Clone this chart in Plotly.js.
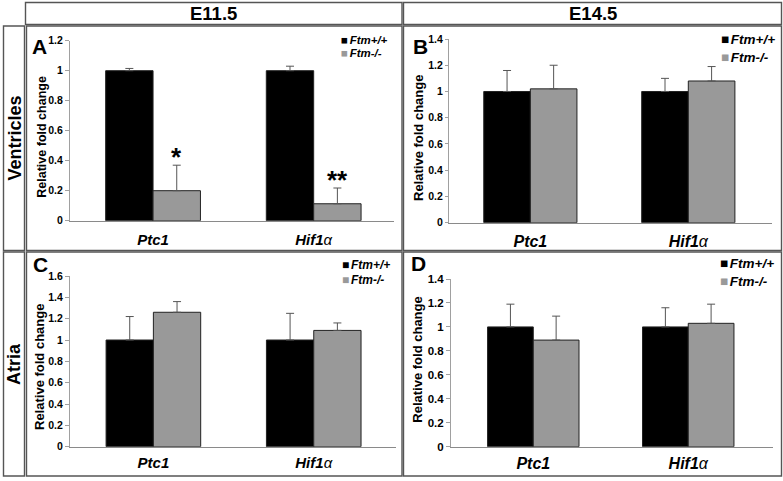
<!DOCTYPE html>
<html>
<head>
<meta charset="utf-8">
<script src="https://cdn.plot.ly/plotly-3.0.1.min.js"></script>
<style>html,body{margin:0;padding:0;background:#fff;}#chart{width:783px;height:481px;}</style>
</head>
<body>
<div id="chart"></div>
<script>
// ---- data ----
const categories = ["Ptc1", "Hif1α"];
const tickLabels = ["<b>Ptc1</b>", "<b>Hif1</b>α"];
const seriesNames = ["Ftm+/+", "Ftm-/-"];
const stages = ["E11.5", "E14.5"];
const tissues = ["Ventricles", "Atria"];
const panelLetters = ["A", "B", "C", "D"];

const wtA = [1.00, 1.00], wtErrA = [0.015, 0.03];
const koA = [0.20, 0.113], koErrA = [0.17, 0.105];
const sigA = ["*", "**"];

const wtB = [1.00, 1.00], wtErrB = [0.16, 0.10];
const koB = [1.02, 1.08], koErrB = [0.18, 0.11];

const wtC = [1.00, 1.00], wtErrC = [0.22, 0.25];
const koC = [1.26, 1.09], koErrC = [0.10, 0.07];

const wtD = [1.00, 1.00], wtErrD = [0.19, 0.16];
const koD = [0.89, 1.03], koErrD = [0.20, 0.16];

const yMax = [1.2, 1.4, 1.6, 1.4];

// ---- layout helpers ----
const W = 783, H = 481;
const px = v => v / W;
const py = v => 1 - v / H;
const FONT = "Liberation Sans, Arial, sans-serif";
const colors = ["#000000", "#999999"];

const panels = [
  {wt: wtA, wtE: wtErrA, ko: koA, koE: koErrA, x0: 70, x1: 394, yb: 220.7, yt: 40.7, xr: [-0.517, 1.50], tick: 10.5, tl: 4, cat: 15, catSt: 5, title: 12.5, tx: 41.7, ty: 137, leg: {x: 340, y1: 39.5, y2: 53, fs: 11.5}, let: {x: 31, y: 46}},
  {wt: wtB, wtE: wtErrB, ko: koB, koE: koErrB, x0: 449, x1: 771.7, yb: 222.7, yt: 39, xr: [-0.515, 1.528], tick: 10.5, tl: 3, cat: 16, catSt: 4, title: 13, tx: 418, ty: 138, leg: {x: 720, y1: 39.3, y2: 57.3, fs: 13.5}, let: {x: 412, y: 46}},
  {wt: wtC, wtE: wtErrC, ko: koC, koE: koErrC, x0: 70, x1: 396, yb: 446.7, yt: 276, xr: [-0.52, 1.513], tick: 10.5, tl: 4, cat: 15, catSt: 2, title: 13, tx: 39.3, ty: 366.7, leg: {x: 340.5, y1: 265, y2: 280, fs: 12}, let: {x: 32, y: 264}},
  {wt: wtD, wtE: wtErrD, ko: koD, koE: koErrD, x0: 451, x1: 772.7, yb: 446.7, yt: 279, xr: [-0.531, 1.545], tick: 11.5, tl: 4, cat: 16, catSt: 2, title: 13, tx: 416.7, ty: 360, leg: {x: 719, y1: 263.3, y2: 281.7, fs: 13.5}, let: {x: 410, y: 263}}
];

const data = [];
const layout = {
  width: W, height: H,
  margin: {l: 0, r: 0, t: 0, b: 0},
  paper_bgcolor: "#ffffff", plot_bgcolor: "rgba(0,0,0,0)",
  font: {family: FONT, color: "#000"},
  showlegend: false,
  barmode: "group",
  bargap: 0.41, bargroupgap: 0,
  annotations: [], shapes: []
};

panels.forEach((p, i) => {
  const sfx = i === 0 ? "" : String(i + 1);
  const xa = "x" + sfx, ya = "y" + sfx;
  [[p.wt, p.wtE], [p.ko, p.koE]].forEach((s, k) => {
    data.push({
      type: "bar", x: categories, y: s[0], name: seriesNames[k],
      xaxis: xa, yaxis: ya,
      marker: {color: colors[k], line: {color: "#222", width: 1}},
      error_y: {type: "data", symmetric: false, array: s[1], arrayminus: s[1].map(() => 0),
                color: "#555", thickness: 1, width: 4},
      hoverinfo: "skip"
    });
  });
  layout["xaxis" + sfx] = {
    domain: [px(p.x0), px(p.x1)], anchor: ya, type: "category",
    range: p.xr, showline: true, linecolor: "#8a8a8a", linewidth: 1,
    showgrid: false, zeroline: false, ticks: "",
    tickmode: "array", tickvals: categories, ticktext: tickLabels,
    ticklabelstandoff: p.catSt,
    tickfont: {family: FONT, size: p.cat, style: "italic", color: "#000"},
    fixedrange: true
  };
  layout["yaxis" + sfx] = {
    domain: [py(p.yb), py(p.yt)], anchor: xa,
    range: [0, yMax[i]], dtick: 0.2, tick0: 0,
    showline: true, linecolor: "#a0a0a0", linewidth: 1,
    ticks: "outside", ticklen: p.tl, tickcolor: "#a0a0a0",
    showgrid: false, zeroline: false,
    tickfont: {family: FONT, size: p.tick, weight: "bold", color: "#000"},
    fixedrange: true
  };
  // y axis title
  layout.annotations.push({
    xref: "paper", yref: "paper", x: px(p.tx), y: py(p.ty), xanchor: "center", yanchor: "middle",
    text: "<b>Relative fold change</b>", textangle: -90, showarrow: false,
    font: {family: FONT, size: p.title, color: "#000"}
  });
  // panel letter
  layout.annotations.push({
    xref: "paper", yref: "paper", x: px(p.let.x), y: py(p.let.y), xanchor: "left", yanchor: "middle",
    text: "<b>" + panelLetters[i] + "</b>", showarrow: false, borderpad: 0,
    font: {family: FONT, size: 21, color: "#000"}
  });
  // legend
  [p.leg.y1, p.leg.y2].forEach((yy, k) => {
    layout.annotations.push({
      xref: "paper", yref: "paper", x: px(p.leg.x), y: py(yy), xanchor: "left", yanchor: "middle",
      text: '<span style="color:' + colors[k] + '">■</span><span style="font-size:6px"> </span><b><i>' + seriesNames[k] + '</i></b>',
      showarrow: false, borderpad: 0, font: {family: FONT, size: p.leg.fs, color: "#000"}
    });
  });
});

// significance marks (panel A, knockout bars)
const koOffset = (1 - layout.bargap) / 4;
sigA.forEach((s, j) => {
  layout.annotations.push({
    xref: "x", yref: "y", x: j + koOffset, y: koA[j] + koErrA[j],
    xanchor: "center", yanchor: "bottom", yshift: -9,
    text: "<b>" + s + "</b>", showarrow: false,
    font: {family: FONT, size: 26, color: "#000"}
  });
});

// header and row label text
const hdr = {showarrow: false, xref: "paper", yref: "paper", xanchor: "center", yanchor: "middle"};
layout.annotations.push(
  Object.assign({x: px(213.5), y: py(13.5), text: "<b>" + stages[0] + "</b>", font: {family: FONT, size: 18.5}}, hdr),
  Object.assign({x: px(592.5), y: py(13.5), text: "<b>" + stages[1] + "</b>", font: {family: FONT, size: 18.5}}, hdr),
  Object.assign({x: px(14), y: py(138.5), text: "<b>" + tissues[0] + "</b>", textangle: -90, font: {family: FONT, size: 18}}, hdr),
  Object.assign({x: px(14), y: py(364), text: "<b>" + tissues[1] + "</b>", textangle: -90, font: {family: FONT, size: 18}}, hdr)
);

const boxes = [
  [25.5, 2.5, 402, 24.5], [403.5, 2.5, 781.5, 24.5],
  [3.5, 26, 24.5, 250.5], [3.5, 252, 24.5, 476],
  [26.5, 26, 402, 250.5], [403.5, 26, 781.5, 250.5],
  [26.5, 252, 402, 476], [403.5, 252, 781.5, 476]
];
boxes.forEach(b => layout.shapes.push({
  type: "rect", xref: "paper", yref: "paper",
  x0: px(b[0]), x1: px(b[2]), y0: py(b[3]), y1: py(b[1]),
  line: {color: "#555555", width: 1.4}, fillcolor: "rgba(0,0,0,0)", layer: "above"
}));

Plotly.newPlot("chart", data, layout, {staticPlot: true, displayModeBar: false});
</script>
</body>
</html>
